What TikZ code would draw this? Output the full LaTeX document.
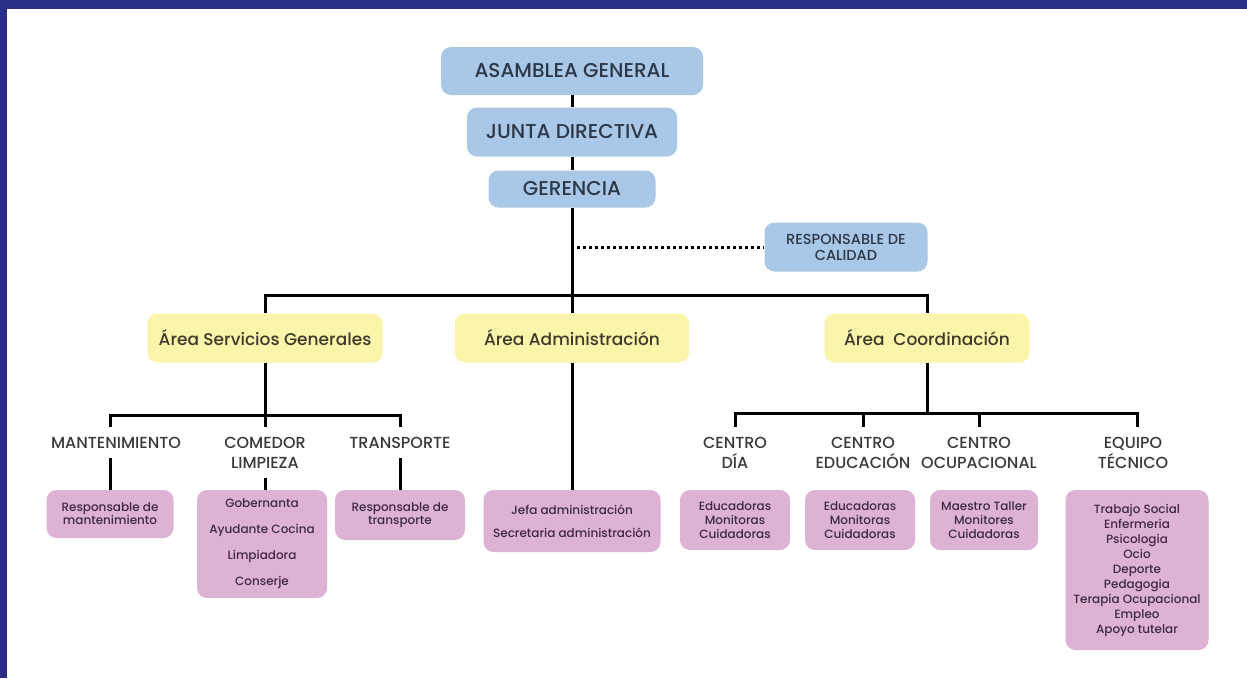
\documentclass[tikz,border=0pt]{standalone}
\usepackage{fontspec}
\IfFontExistsTF{Poppins Medium}{\setmainfont{Poppins Medium}}{\setmainfont{Poppins}[FakeBold=0.5]}
\usetikzlibrary{positioning}

\definecolor{marco}{HTML}{2B2D86}
\definecolor{azul}{HTML}{A9C7E7}
\definecolor{amarillo}{HTML}{FBF4AB}
\definecolor{rosa}{HTML}{DDB2D5}
\definecolor{tazul}{HTML}{2C3848}
\definecolor{tamar}{HTML}{3D3A2A}
\definecolor{tgris}{HTML}{3A3A3A}
\definecolor{trosa}{HTML}{3E2A3C}

\tikzset{
  direccion/.style={fill=azul, rounded corners=10pt, text=tazul, inner sep=0pt,
    font=\fontsize{20}{22}\selectfont},
  area/.style={fill=amarillo, rounded corners=10pt, text=tamar, inner sep=0pt,
    minimum height=49pt, font=\fontsize{17}{19}\selectfont},
  seccion/.style={anchor=north, align=center, text=tgris, inner sep=0pt, outer ysep=10pt,
    font=\fontsize{16}{20}\selectfont},
  puesto/.style={fill=rosa, rounded corners=10pt, text=trosa, align=center, inner sep=0pt,
    font=\fontsize{12}{13}\selectfont},
  linea/.style={line width=3pt},
  punteado/.style={line width=3pt, dash pattern=on 3pt off 3pt}
}

\begin{document}
\begin{tikzpicture}[x=1pt,y=-1pt]
\useasboundingbox (0,0) rectangle (1247,678);
\fill[marco] (0,0) rectangle (1247,678);
\fill[white] (7,9) rectangle (1247,678);

% direccion
\node (asamblea) [direccion, minimum width=262pt, minimum height=48pt] at (572,71) {ASAMBLEA GENERAL};
\node (junta) [direccion, minimum width=210pt, minimum height=49pt] at (572,132) {JUNTA DIRECTIVA};
\node (gerencia) [direccion, minimum width=167pt, minimum height=37pt] at (572,189) {GERENCIA};
\node (calidad) [direccion, align=center, minimum width=163pt, minimum height=49pt,
  font=\fontsize{14.5}{16}\selectfont] at (846,247) {RESPONSABLE DE\\CALIDAD};

% areas
\node (servicios) [area, minimum width=235pt] at (265,338) {Área Servicios Generales};
\node (admin) [area, minimum width=234pt] at (572,338) {Área Administración};
\node (coord) [area, minimum width=205pt] at (927,338) {Área\ \ Coordinación};

% servicios generales
\node (mant) [seccion] at (116,427) {MANTENIMIENTO};
\node (comedor) [seccion] at (265,427) {COMEDOR\\LIMPIEZA};
\node (transp) [seccion] at (400,427) {TRANSPORTE};
\node (mbox) [puesto, minimum width=127pt, minimum height=48pt] at (110,514) {Responsable de\\mantenimiento};
\node (cbox) [puesto, minimum width=130pt, minimum height=108pt,
  font=\fontsize{12}{26}\selectfont] at (262,544) {Gobernanta\\Ayudante Cocina\\Limpiadora\\Conserje};
\node (tbox) [puesto, minimum width=130pt, minimum height=50pt] at (400,515) {Responsable de\\transporte};

% administracion
\node (jbox) [puesto, minimum width=177pt, minimum height=62pt,
  font=\fontsize{12}{23}\selectfont] at (572,521) {Jefa administración\\Secretaria administración};

% coordinacion
\foreach \n/\x/\t in {dia/735/{CENTRO\\DÍA}, educa/863/{CENTRO\\EDUCACIÓN},
    ocupa/979/{CENTRO\\OCUPACIONAL}, tecnico/1133/{EQUIPO\\TÉCNICO}}
  \node (\n) [seccion] at (\x,427) {\t};
\foreach \n/\x/\w/\t in {dia/735/110/{Educadoras\\Monitoras\\Cuidadoras},
    educa/860/110/{Educadoras\\Monitoras\\Cuidadoras},
    ocupa/984/108/{Maestro Taller\\Monitores\\Cuidadoras}}
  \node (\n box) [puesto, minimum width=\w pt, minimum height=60pt,
    font=\fontsize{12}{14}\selectfont] at (\x,520) {\t};
\node (tecbox) [puesto, minimum width=143pt, minimum height=160pt,
  font=\fontsize{12}{15}\selectfont] at (1137,570)
  {Trabajo Social\\Enfermeria\\Psicologia\\Ocio\\Deporte\\Pedagogia\\Terapia Ocupacional\\Empleo\\Apoyo tutelar};

% lineas
\coordinate (bus1) at (572,295);
\coordinate (bus2) at (265,415);
\coordinate (bus3) at (927,413);
\draw[linea] (asamblea) -- (junta);
\draw[linea] (junta) -- (gerencia);
\draw[linea] (gerencia) -- (admin);
\draw[punteado] ([xshift=5pt]gerencia.south |- calidad.west) -- (calidad.west);
\draw[linea] (servicios.north) |- (bus1) -| (coord.north);
\draw[linea] (servicios) -- (comedor);
\draw[linea] (mbox.north |- mant.north) |- (bus2) -| (transp.north);
\draw[linea] (mbox.north |- mant.south) -- (mbox);
\draw[linea] (comedor) -- (cbox.north -| comedor);
\draw[linea] (transp) -- (tbox);
\draw[linea] (admin) -- (jbox);
\draw[linea] (coord) -- (bus3);
\draw[linea] (dia.north) |- (bus3) -| (tecbox.north |- tecnico.north);
\draw[linea] (educa.north) -- (educa.north |- bus3);
\draw[linea] (ocupa.north) -- (ocupa.north |- bus3);
\end{tikzpicture}
\end{document}
